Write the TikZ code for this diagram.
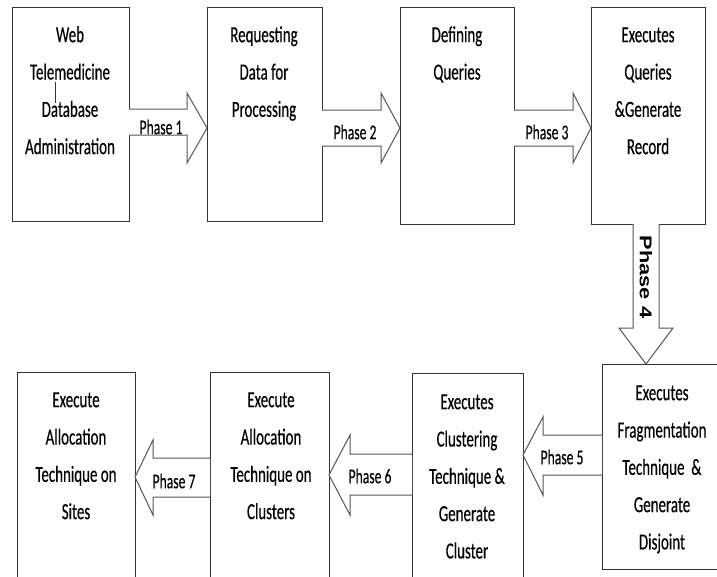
\documentclass[tikz,border=0pt]{standalone}
\usepackage{fontspec}
\newfontfamily\calib[FakeStretch=0.65,FakeBold=0.3]{Carlito}
\newfontfamily\arialf{Liberation Sans}
\definecolor{boxc}{HTML}{333333}
\definecolor{arrc}{HTML}{555555}
\begin{document}
\begin{tikzpicture}[x=1pt,y=-1pt,
  box/.style={draw=boxc, line width=1pt, fill=white, inner sep=0pt, outer sep=0pt, anchor=north west},
  arr/.style={draw=arrc, line width=1pt, fill=white},
  txt/.style={align=center, font=\fontsize{23}{37.3}\selectfont\calib, inner sep=0pt, anchor=north},
  ph/.style={font=\fontsize{21}{22}\selectfont\calib, inner sep=0pt}]
\useasboundingbox (0,0) rectangle (717,576);
% boxes top row
\node[box, minimum width=117pt, minimum height=214pt] (b1) at (12,7) {};
\node[box, minimum width=115pt, minimum height=214pt] (b2) at (207,7) {};
\node[box, minimum width=114pt, minimum height=217pt] (b3) at (400,7) {};
\node[box, minimum width=114pt, minimum height=217pt] (b4) at (591,7) {};
% boxes bottom row
\node[box, minimum width=120pt, minimum height=205pt] (b5) at (602,364) {};
\node[box, minimum width=111pt, minimum height=210pt] (b6) at (412,373) {};
\node[box, minimum width=119pt, minimum height=210pt] (b7) at (210,372) {};
\node[box, minimum width=118pt, minimum height=210pt] (b8) at (17,372) {};
% texts
\node[txt] (t1) at (70,26) {\rule{0pt}{16pt}Web\\Telemedicine\\Database\\Administration};
\node[txt] (t2) at (264,26) {\rule{0pt}{16pt}Requesting\\Data for\\Processing};
\node[txt] (t3) at (457,26) {\rule{0pt}{16pt}Defining\\Queries};
\node[txt] (t4) at (648,26) {\rule{0pt}{16pt}Executes\\Queries\\\&Generate\\Record};
\node[txt] (t5) at (662,384) {\rule{0pt}{16pt}Executes\\Fragmentation\\Technique~~\&\\Generate\\Disjoint};
\node[txt] (t6) at (467,393) {\rule{0pt}{16pt}Executes\\Clustering\\Technique \&\\Generate\\Cluster};
\node[txt] (t7) at (271,391) {\rule{0pt}{16pt}Execute\\Allocation\\Technique on\\Clusters};
\node[txt] (t8) at (76,391) {\rule{0pt}{16pt}Execute\\Allocation\\Technique on\\Sites};
% stray line in box 1
\coordinate (s1) at (55,82);
\coordinate (s2) at (55,103);
\draw[boxc, line width=1pt] (s1) -- (s2);
% phase 1
\filldraw[arr] (b1.east |- 0,109) -- (187,109) -- (187,93) -- (b2.west |- 0,128) -- (187,163) -- (187,135) -- (b1.east |- 0,135);
\node[ph] (p1) at (161,127) {Phase 1};
% phase 2
\filldraw[arr] (b2.east |- 0,110) -- (381,110) -- (381,93) -- (b3.west |- 0,128) -- (381,163) -- (381,146) -- (b2.east |- 0,146);
\node[ph] (p2) at (355,132) {Phase 2};
% phase 3
\filldraw[arr] (b3.east |- 0,110) -- (573,110) -- (573,93) -- (b4.west |- 0,128) -- (573,163) -- (573,146) -- (b3.east |- 0,146);
\node[ph] (p3) at (547,132) {Phase 3};
% phase 4
\filldraw[arr] (633,0 |- b4.south) -- (633,328) -- (619,328) -- (646,0 |- b5.north) -- (673,328) -- (659,328) -- (659,0 |- b4.south);
\node[inner sep=0pt, rotate=-90, font=\fontsize{17}{20}\selectfont\arialf\bfseries] (p4) at (646,277) {\scalebox{1.28}[1]{Phase 4}};
% phase 5
\filldraw[arr] (b5.west |- 0,435) -- (543,435) -- (543,417) -- (b6.east |- 0,455) -- (543,495) -- (543,475) -- (b5.west |- 0,475);
\node[ph] (p5) at (562,457) {Phase 5};
% phase 6
\filldraw[arr] (b6.west |- 0,454) -- (350,454) -- (350,435) -- (b7.east |- 0,475) -- (350,515) -- (350,495) -- (b6.west |- 0,495);
\node[ph] (p6) at (370,476) {Phase 6};
% phase 7
\filldraw[arr] (b7.west |- 0,458) -- (153,458) -- (153,440) -- (b8.east |- 0,477) -- (153,515) -- (153,497) -- (b7.west |- 0,497);
\node[ph] (p7) at (174,481) {Phase 7};
\end{tikzpicture}
\end{document}
